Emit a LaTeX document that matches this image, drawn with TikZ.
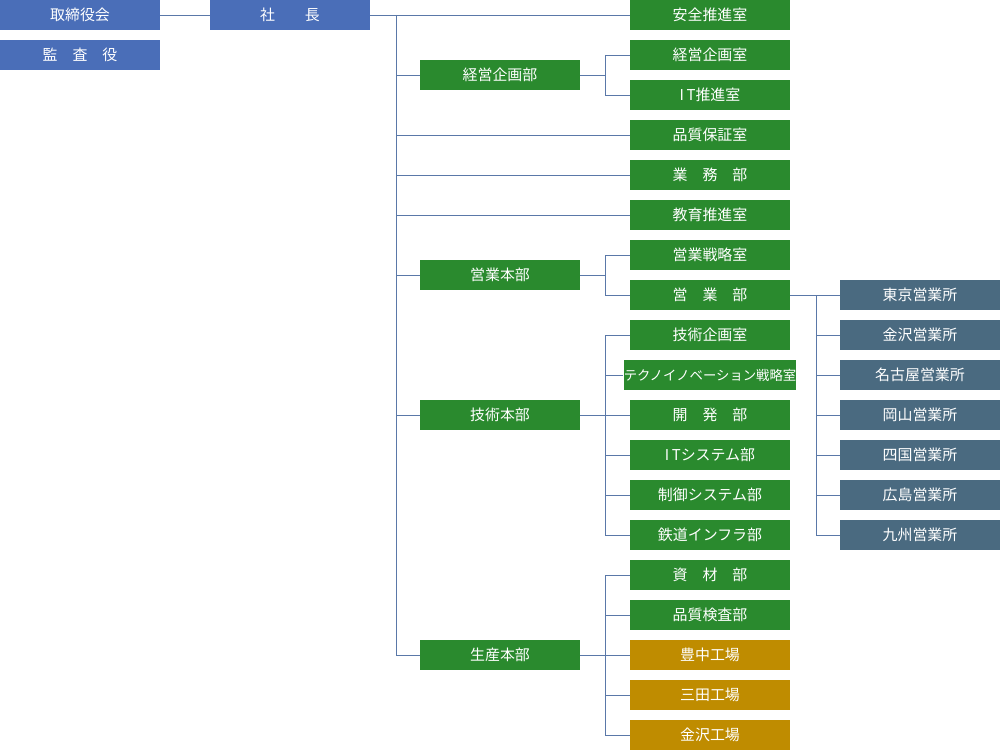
\documentclass[tikz,border=0pt]{standalone}
\usepackage{fontspec}
\newfontfamily\jp{Noto Sans CJK JP}
\definecolor{cblue}{HTML}{4A6EB8}
\definecolor{cgreen}{HTML}{2A8A2E}
\definecolor{cgold}{HTML}{BF8C00}
\definecolor{cslate}{HTML}{4A6A80}
\definecolor{cline}{HTML}{5A78A8}
\tikzset{
 box/.style={minimum width=3.2cm,minimum height=0.6cm,inner sep=0pt,text=white,font=\jp\fontsize{8.5}{10}\selectfont},
 bb/.style={box,fill=cblue}, gb/.style={box,fill=cgreen}, yb/.style={box,fill=cgold}, sb/.style={box,fill=cslate},
 ln/.style={draw=cline,line width=0.5pt}
}
\begin{document}
\begin{tikzpicture}[x=0.02cm,y=-0.02cm]
\useasboundingbox (0,0) rectangle (1000,750);
\node[bb] (tori) at (80,15) {取締役会};
\node[bb] (kansa) at (80,55) {監　査　役};
\node[bb] (shacho) at (290,15) {社　　長};
\node[gb] (keiei) at (500,75) {経営企画部};
\node[gb] (eigyohon) at (500,275) {営業本部};
\node[gb] (gijutsu) at (500,415) {技術本部};
\node[gb] (seisan) at (500,655) {生産本部};
\node[gb] (c0) at (710,15) {安全推進室};
\node[gb] (c1) at (710,55) {経営企画室};
\node[gb] (c2) at (710,95) {I\,T推進室};
\node[gb] (c3) at (710,135) {品質保証室};
\node[gb] (c4) at (710,175) {業　務　部};
\node[gb] (c5) at (710,215) {教育推進室};
\node[gb] (c6) at (710,255) {営業戦略室};
\node[gb] (c7) at (710,295) {営　業　部};
\node[gb] (c8) at (710,335) {技術企画室};
\node[gb,font=\jp\fontsize{7.6}{9}\selectfont] (c9) at (710,375) {テクノイノベーション戦略室};
\node[gb] (c10) at (710,415) {開　発　部};
\node[gb] (c11) at (710,455) {I\,Tシステム部};
\node[gb] (c12) at (710,495) {制御システム部};
\node[gb] (c13) at (710,535) {鉄道インフラ部};
\node[gb] (c14) at (710,575) {資　材　部};
\node[gb] (c15) at (710,615) {品質検査部};
\node[yb] (c16) at (710,655) {豊中工場};
\node[yb] (c17) at (710,695) {三田工場};
\node[yb] (c18) at (710,735) {金沢工場};
\node[sb] (d7) at (920,295) {東京営業所};
\node[sb] (d8) at (920,335) {金沢営業所};
\node[sb] (d9) at (920,375) {名古屋営業所};
\node[sb] (d10) at (920,415) {岡山営業所};
\node[sb] (d11) at (920,455) {四国営業所};
\node[sb] (d12) at (920,495) {広島営業所};
\node[sb] (d13) at (920,535) {九州営業所};
\path[ln] (tori) -- (shacho);
\path[ln] (shacho) -- (c0);
\path[ln] (396,15) -- (396,655);
\foreach \n in {keiei,eigyohon,gijutsu,seisan} \path[ln] (396,0 |- \n) -- (\n.west);
\foreach \n in {c3,c4,c5} \path[ln] (396,0 |- \n) -- (\n.west);
\path[ln] (keiei.east) -- (605,75);
\path[ln] (605,55) -- (605,95);
\foreach \n in {c1,c2} \path[ln] (605,0 |- \n) -- (\n.west);
\path[ln] (eigyohon.east) -- (605,275);
\path[ln] (605,255) -- (605,295);
\foreach \n in {c6,c7} \path[ln] (605,0 |- \n) -- (\n.west);
\path[ln] (gijutsu.east) -- (605,415);
\path[ln] (605,335) -- (605,535);
\foreach \n in {c8,c9,c10,c11,c12,c13} \path[ln] (605,0 |- \n) -- (\n.west);
\path[ln] (seisan.east) -- (605,655);
\path[ln] (605,575) -- (605,735);
\foreach \n in {c14,c15,c16,c17,c18} \path[ln] (605,0 |- \n) -- (\n.west);
\path[ln] (c7.east) -- (d7.west);
\path[ln] (816,295) -- (816,535);
\foreach \n in {d8,d9,d10,d11,d12,d13} \path[ln] (816,0 |- \n) -- (\n.west);
\end{tikzpicture}
\end{document}
